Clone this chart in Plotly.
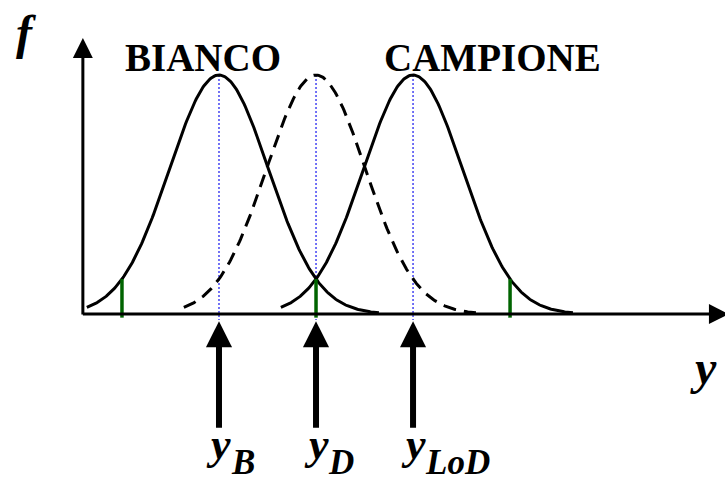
import numpy as np
import plotly.graph_objects as go

# Distribution parameters (in units of the standard deviation)
SIGMA = 1.0
Y_B = 0.0        # blank mean
Y_D = 1.96       # decision limit
Y_LOD = 3.92     # limit of detection
Z = 1.96         # coverage factor of the marked quantiles

curve_means = [Y_B, Y_D, Y_LOD]
curve_dash = ["solid", "13px,8px", "solid"]
marker_positions = [Y_B - Z, Y_B + Z, Y_LOD + Z]
arrow_positions = [Y_B, Y_D, Y_LOD]
arrow_subscripts = ["B", "D", "LoD"]
titles = ["BIANCO", "CAMPIONE"]
title_positions = [-0.32, 5.52]

# plotting window (keeps 1 sigma ~ 49.5 px, unit peak ~ 239 px)
X_RANGE = [-4.424, 10.222]
Y_RANGE = [-0.711, 1.314]
AXIS_X0 = -2.75

SERIF = "Liberation Serif, Times New Roman, Times, serif"


def gauss(x, mu):
    return np.exp(-0.5 * ((x - mu) / SIGMA) ** 2)


fig = go.Figure()

# dotted guides at the means
for mu in curve_means:
    fig.add_trace(go.Scatter(x=[mu, mu], y=[1.0, -0.025], mode="lines",
                             line=dict(color="rgb(40,40,240)", width=1.3, dash="2px,2px"),
                             hoverinfo="skip"))

# the three distributions
for mu, dash in zip(curve_means, curve_dash):
    xs = np.linspace(mu - 2.67 * SIGMA, mu + 3.23 * SIGMA, 300)
    fig.add_trace(go.Scatter(x=xs, y=gauss(xs, mu), mode="lines",
                             line=dict(color="black", width=3, dash=dash),
                             hoverinfo="skip"))

# quantile markers
for xm in marker_positions:
    top = max(gauss(xm, mu) for mu in (Y_B, Y_LOD))
    fig.add_trace(go.Scatter(x=[xm, xm], y=[-0.015, top], mode="lines",
                             line=dict(color="rgb(0,100,0)", width=3.5),
                             hoverinfo="skip"))

ann = []
# axes with arrowheads
ann.append(dict(x=AXIS_X0, y=1.155, ax=AXIS_X0, ay=-0.008, xref="x", yref="y",
                axref="x", ayref="y", text="", showarrow=True, arrowhead=2,
                arrowsize=1.33, arrowwidth=3, arrowcolor="black"))
ann.append(dict(x=10.3, y=0, ax=AXIS_X0 - 0.03, ay=0, xref="x", yref="y",
                axref="x", ayref="y", text="", showarrow=True, arrowhead=2,
                arrowsize=1.33, arrowwidth=3, arrowcolor="black"))

# arrows pointing at y_B, y_D, y_LoD
for xa, sub in zip(arrow_positions, arrow_subscripts):
    ann.append(dict(x=xa, y=-0.03, ax=xa, ay=-0.482, xref="x", yref="y",
                    axref="x", ayref="y", text="", showarrow=True, arrowhead=2,
                    arrowsize=0.87, arrowwidth=6, arrowcolor="black"))
    ann.append(dict(x=xa, y=-0.544, xref="x", yref="y", text="<b><i>y</i></b>",
                    showarrow=False, xanchor="center", yanchor="middle",
                    font=dict(family=SERIF, size=44, color="black")))
    ann.append(dict(x=xa, y=-0.623, xref="x", yref="y", xshift=11, borderpad=0,
                    text="<b><i>%s</i></b>" % sub, showarrow=False,
                    xanchor="left", yanchor="middle",
                    font=dict(family=SERIF, size=35, color="black")))

# curve titles
for t, xt in zip(titles, title_positions):
    ann.append(dict(x=xt, y=1.075, xref="x", yref="y", text="<b>%s</b>" % t,
                    showarrow=False, xanchor="center", yanchor="middle",
                    font=dict(family=SERIF, size=39, color="black")))

# axis names
ann.append(dict(x=-3.9, y=1.18, xref="x", yref="y", text="<b><i>f</i></b>",
                showarrow=False, xanchor="center", yanchor="middle",
                font=dict(family=SERIF, size=48, color="black")))
ann.append(dict(x=9.78, y=-0.222, xref="x", yref="y", text="<b><i>y</i></b>",
                showarrow=False, xanchor="center", yanchor="middle",
                font=dict(family=SERIF, size=48, color="black")))

fig.update_layout(
    width=725, height=484,
    margin=dict(l=0, r=0, t=0, b=0),
    paper_bgcolor="white", plot_bgcolor="white",
    showlegend=False,
    xaxis=dict(range=X_RANGE, visible=False, fixedrange=True),
    yaxis=dict(range=Y_RANGE, visible=False, fixedrange=True),
    annotations=ann,
)

fig.write_html("out.html")
